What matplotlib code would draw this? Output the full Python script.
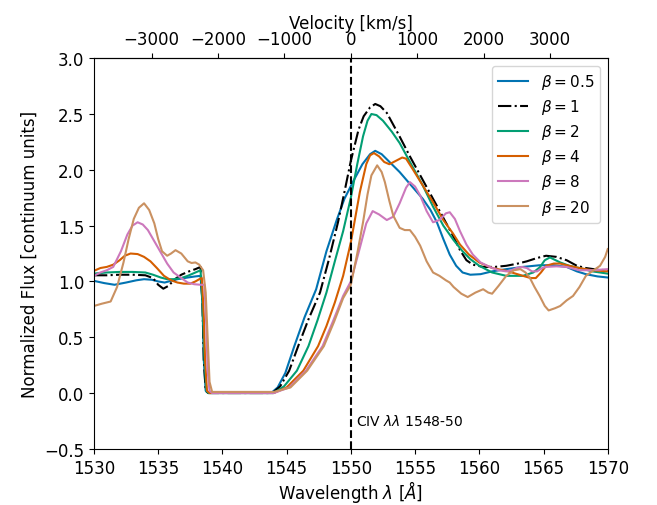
import matplotlib
matplotlib.use("Agg")
import matplotlib.pyplot as plt
import numpy as np

# CIV 1548-50 wind profiles for several beta-law exponents
LAM0 = 1550.0
C_KMS = 299792.458

wl_b05 = [1530, 1530.8, 1531.6, 1532.5, 1533.3, 1533.9, 1534.5, 1535.0, 1535.5,
          1536.5, 1537.3, 1537.9, 1538.3, 1538.45, 1538.55, 1538.7, 1538.9, 1543.8,
          1544.3, 1544.9, 1545.6, 1546.4, 1547.3, 1548.1, 1548.9, 1549.5, 1550.2,
          1550.9, 1551.5, 1551.9, 1552.4, 1553.1, 1553.8, 1554.7, 1555.6, 1556.2,
          1556.7, 1557.2, 1557.7, 1558.2, 1558.7, 1559.3, 1560.1, 1561.0, 1562.1,
          1563.4, 1564.7, 1565.8, 1566.8, 1567.6, 1568.3, 1569.2, 1570]
fx_b05 = [1.005, 0.985, 0.97, 0.99, 1.01, 1.02, 1.015, 1.00, 0.99,
          1.02, 1.035, 1.045, 1.05, 0.8, 0.3, 0.02, 0.0, 0.0,
          0.05, 0.18, 0.42, 0.68, 0.93, 1.27, 1.55, 1.74, 1.90,
          2.05, 2.14, 2.17, 2.14, 2.06, 1.98, 1.86, 1.74, 1.64,
          1.53, 1.38, 1.24, 1.14, 1.08, 1.06, 1.065, 1.09, 1.11,
          1.13, 1.145, 1.145, 1.13, 1.09, 1.065, 1.045, 1.035]

wl_b1 = [1530, 1531, 1532, 1533, 1534, 1534.6, 1535.0, 1535.4, 1535.8,
         1536.3, 1536.8, 1537.4, 1537.9, 1538.3, 1538.45, 1538.55, 1538.7, 1538.9,
         1543.9, 1544.5, 1545.2, 1545.9, 1546.7, 1547.6, 1548.3, 1549.0, 1549.5,
         1550.0, 1550.6, 1551.0, 1551.5, 1551.9, 1552.3, 1552.8, 1553.7, 1554.6,
         1555.5, 1556.4, 1557.2, 1557.95, 1558.5, 1559.0, 1559.5, 1560.3, 1561.2,
         1562.1, 1563.0, 1563.7, 1564.5, 1565.2, 1566.0, 1566.8, 1567.6, 1568.3,
         1569.2, 1570]
fx_b1 = [1.055, 1.055, 1.06, 1.06, 1.055, 1.03, 0.97, 0.935, 0.96,
         1.02, 1.06, 1.09, 1.11, 1.13, 0.8, 0.3, 0.02, 0.0,
         0.0, 0.06, 0.20, 0.42, 0.66, 0.90, 1.20, 1.53, 1.80,
         2.08, 2.36, 2.48, 2.56, 2.59, 2.57, 2.51, 2.32, 2.12,
         1.93, 1.74, 1.57, 1.41, 1.28, 1.19, 1.15, 1.13, 1.13,
         1.14, 1.16, 1.18, 1.21, 1.23, 1.22, 1.19, 1.14, 1.12,
         1.105, 1.10]

wl_b2 = [1530, 1531, 1532, 1533, 1534, 1534.6, 1535.2, 1535.7, 1536.2,
         1536.8, 1537.3, 1537.8, 1538.3, 1538.45, 1538.6, 1538.75, 1538.9, 1544.0,
         1544.8, 1545.8, 1546.7, 1547.4, 1548.1, 1548.8, 1549.4, 1550.0, 1550.5,
         1550.95, 1551.3, 1551.6, 1552.0, 1552.5, 1553.2, 1553.8, 1554.7, 1555.6,
         1556.4, 1557.2, 1558.0, 1558.7, 1559.3, 1560.0, 1561.0, 1562.1, 1563.4,
         1564.2, 1564.7, 1565.1, 1565.5, 1566.3, 1567.0, 1567.8, 1568.8, 1570]
fx_b2 = [1.07, 1.08, 1.085, 1.085, 1.08, 1.06, 1.035, 1.02, 1.02,
         1.03, 1.05, 1.075, 1.10, 0.8, 0.3, 0.02, 0.0, 0.0,
         0.06, 0.20, 0.42, 0.65, 0.90, 1.20, 1.45, 1.75, 2.05,
         2.30, 2.44, 2.50, 2.49, 2.44, 2.34, 2.24, 2.05, 1.86,
         1.67, 1.50, 1.37, 1.27, 1.20, 1.14, 1.08, 1.05, 1.05,
         1.08, 1.125, 1.19, 1.215, 1.17, 1.14, 1.12, 1.09, 1.07]

wl_b4 = [1530, 1530.5, 1531.0, 1531.5, 1532.0, 1532.4, 1532.85, 1533.4, 1533.9,
         1534.4, 1534.9, 1535.45, 1536.0, 1536.5, 1537.0, 1537.5, 1537.9, 1538.2,
         1538.4, 1538.55, 1538.65, 1538.8, 1539.0, 1544.0, 1545.0, 1546.3, 1547.45,
         1548.1, 1548.75, 1549.4, 1550.0, 1550.7, 1551.2, 1551.5, 1551.8, 1552.2,
         1552.6, 1553.0, 1553.5, 1554.0, 1554.3, 1554.85, 1555.6, 1556.4, 1557.2,
         1557.95, 1558.5, 1559.2, 1560.0, 1561.0, 1562.1, 1563.4, 1564.0, 1564.4,
         1564.8, 1565.2, 1565.8, 1566.3, 1567.0, 1567.8, 1568.8, 1570]
fx_b4 = [1.095, 1.12, 1.13, 1.15, 1.19, 1.23, 1.25, 1.245, 1.22,
         1.18, 1.12, 1.05, 1.01, 0.99, 0.98, 0.98, 1.00, 1.02,
         1.03, 0.7, 0.3, 0.02, 0.0, 0.0, 0.05, 0.20, 0.42,
         0.60, 0.81, 1.05, 1.35, 1.80, 2.05, 2.13, 2.15, 2.12,
         2.07, 2.05, 2.08, 2.11, 2.10, 2.00, 1.86, 1.71, 1.55,
         1.43, 1.33, 1.24, 1.17, 1.12, 1.095, 1.05, 1.03, 1.03,
         1.08, 1.14, 1.16, 1.16, 1.14, 1.12, 1.10, 1.09]

wl_b8 = [1530, 1530.5, 1531.0, 1531.5, 1532.1, 1532.6, 1533.0, 1533.4, 1533.8,
         1534.2, 1534.7, 1535.2, 1535.7, 1536.2, 1536.8, 1537.3, 1537.8, 1538.3,
         1538.6, 1538.75, 1538.85, 1539.0, 1539.2, 1544.0, 1545.2, 1546.5, 1547.8,
         1548.6, 1549.4, 1550.0, 1550.7, 1551.2, 1551.7, 1552.2, 1552.8, 1553.3,
         1553.8, 1554.3, 1554.6, 1555.0, 1555.4, 1555.9, 1556.4, 1556.9, 1557.4,
         1557.7, 1558.1, 1558.5, 1559.0, 1559.5, 1560.1, 1560.8, 1561.5, 1562.1,
         1562.5, 1562.9, 1563.3, 1563.7, 1564.1, 1564.5, 1564.9, 1565.2, 1566.0,
         1566.8, 1567.8, 1568.8, 1570]
fx_b8 = [1.05, 1.08, 1.10, 1.13, 1.27, 1.42, 1.50, 1.53, 1.51,
         1.46, 1.36, 1.26, 1.16, 1.08, 1.03, 0.99, 0.975, 0.97,
         0.97, 0.6, 0.2, 0.02, 0.0, 0.0, 0.05, 0.20, 0.42,
         0.64, 0.87, 1.00, 1.30, 1.52, 1.63, 1.60, 1.55, 1.58,
         1.70, 1.84, 1.89, 1.85, 1.77, 1.63, 1.53, 1.55, 1.61,
         1.62, 1.56, 1.45, 1.33, 1.24, 1.17, 1.13, 1.10, 1.09,
         1.10, 1.12, 1.13, 1.12, 1.09, 1.09, 1.12, 1.13, 1.135,
         1.13, 1.10, 1.10, 1.11]

wl_b20 = [1530, 1530.6, 1531.3, 1531.8, 1532.3, 1532.7, 1533.1, 1533.5, 1533.9,
          1534.3, 1534.7, 1535.0, 1535.3, 1535.7, 1536.0, 1536.35, 1536.8, 1537.3,
          1537.6, 1537.9, 1538.2, 1538.5, 1538.7, 1538.85, 1539.0, 1539.2, 1544.0,
          1545.3, 1546.6, 1547.9, 1548.7, 1549.4, 1550.0, 1550.5, 1550.95, 1551.3,
          1551.6, 1552.05, 1552.4, 1552.65, 1553.0, 1553.3, 1553.8, 1554.2, 1554.6,
          1555.0, 1555.4, 1555.9, 1556.4, 1556.9, 1557.4, 1557.7, 1558.0, 1558.6,
          1559.1, 1559.7, 1560.3, 1560.7, 1561.0, 1561.5, 1562.1, 1562.7, 1563.2,
          1563.6, 1563.9, 1564.3, 1564.7, 1565.1, 1565.4, 1565.9, 1566.3, 1566.8,
          1567.3, 1567.8, 1568.3, 1568.9, 1569.4, 1569.8, 1570]
fx_b20 = [0.78, 0.80, 0.82, 0.95, 1.17, 1.38, 1.56, 1.66, 1.70,
          1.64, 1.52, 1.38, 1.27, 1.23, 1.25, 1.28, 1.25, 1.18,
          1.165, 1.17, 1.15, 1.10, 0.90, 0.50, 0.10, 0.01, 0.01,
          0.05, 0.20, 0.42, 0.64, 0.85, 0.97, 1.25, 1.53, 1.78,
          1.95, 2.04, 1.98, 1.89, 1.72, 1.59, 1.48, 1.46, 1.46,
          1.40, 1.32, 1.18, 1.08, 1.05, 1.01, 0.99, 0.95, 0.89,
          0.86, 0.90, 0.93, 0.90, 0.89, 0.96, 1.05, 1.10, 1.11,
          1.08, 1.04, 0.95, 0.87, 0.78, 0.74, 0.76, 0.78, 0.83,
          0.87, 0.95, 1.05, 1.10, 1.14, 1.22, 1.29]

series = [
    (wl_b05, fx_b05, r"$\beta = 0.5$", "#0173B2", "-"),
    (wl_b1, fx_b1, r"$\beta = 1$", "black", "-."),
    (wl_b2, fx_b2, r"$\beta = 2$", "#029E73", "-"),
    (wl_b4, fx_b4, r"$\beta = 4$", "#D55E00", "-"),
    (wl_b8, fx_b8, r"$\beta = 8$", "#CC78BC", "-"),
    (wl_b20, fx_b20, r"$\beta = 20$", "#CA9161", "-"),
]


def wl_to_vel(wl):
    return (np.asarray(wl) - LAM0) / LAM0 * C_KMS


def vel_to_wl(v):
    return LAM0 * (1 + np.asarray(v) / C_KMS)


fig = plt.figure(figsize=(6.57, 5.06), dpi=100)
ax = fig.add_axes([0.143, 0.111, 0.782, 0.772])

for wl, fx, lab, col, ls in series:
    ax.plot(wl, fx, color=col, ls=ls, lw=1.5, label=lab)

ax.axvline(LAM0, color="k", ls="--", lw=1.5)
ax.text(1550.4, -0.25, r"CIV $\lambda\lambda$ 1548-50", fontsize=10, va="center")

ax.set_xlim(1530, 1570)
ax.set_ylim(-0.5, 3.0)
ax.set_xlabel(r"Wavelength $\lambda$ [$\AA$]", fontsize=12, labelpad=1)
ax.set_ylabel("Normalized Flux [continuum units]", fontsize=12)
ax.tick_params(labelsize=12)

top = ax.secondary_xaxis("top", functions=(wl_to_vel, vel_to_wl))
top.set_xticks([-3000, -2000, -1000, 0, 1000, 2000, 3000])
top.set_xlabel("Velocity [km/s]", fontsize=12, labelpad=2)
top.tick_params(labelsize=12)

ax.legend(loc="upper right", fontsize=11, labelspacing=0.4)

fig.savefig("out.png", dpi=100)
